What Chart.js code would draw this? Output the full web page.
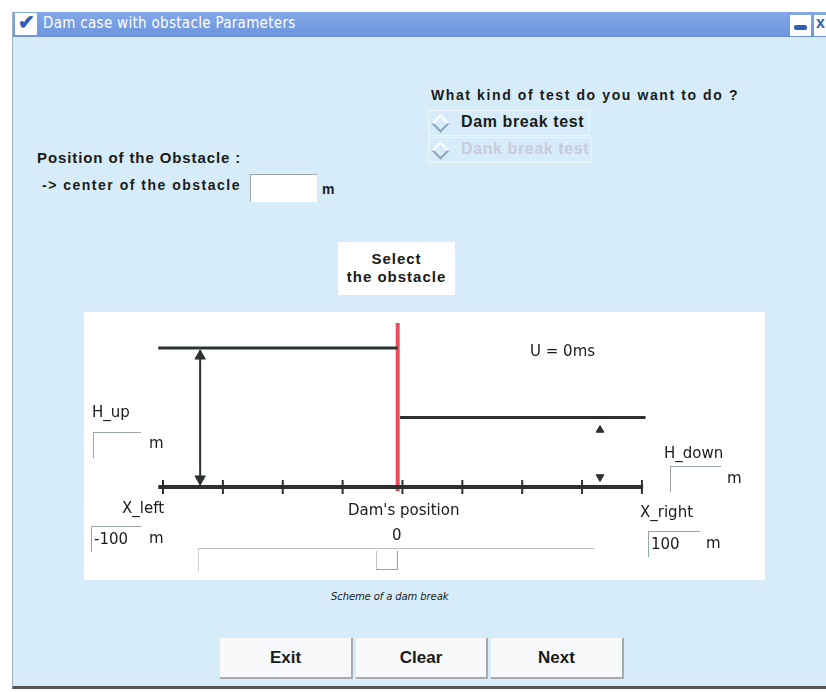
<!DOCTYPE html>
<html>
<head>
<meta charset="utf-8">
<script src="https://cdn.jsdelivr.net/npm/chart.js@4.4.1/dist/chart.umd.min.js"></script>
<style>
  body { margin: 0; width: 826px; height: 692px; background: #fff; position: relative; overflow: hidden;
         font-family: "Liberation Sans", Arial, sans-serif; color: #1a1a1a; }
  .abs { position: absolute; white-space: nowrap; }
  #win { left: 12px; top: 12px; width: 820px; height: 677px; background: #d6edf9;
         border-left: 1px solid #9fb6c8; border-bottom: 3px solid #555; box-sizing: border-box; }
  #titlebar { left: 13px; top: 12px; width: 813px; height: 25px;
              background: linear-gradient(#83a8ea, #6b94dc); }
  .title { font-family: "DejaVu Sans Condensed", "DejaVu Sans", sans-serif; font-stretch: condensed;
           font-size: 15px; letter-spacing: 0.3px; color: #fff; }
  .bold { font-weight: bold; font-size: 15px; letter-spacing: 0.9px; }
  .lbl { font-family: "DejaVu Sans", sans-serif; font-size: 15px; }
  .input { background: #fff; border-top: 1px solid #9aa4ac; border-left: 1px solid #9aa4ac; box-sizing: border-box; }
  .btn { background: #f7f9fa; border-right: 2px solid #a8aaac; border-bottom: 2px solid #a8aaac;
         box-sizing: border-box; text-align: center; font-weight: bold; font-size: 17px; line-height: 40px; }
  .diamond { width: 9px; height: 9px; transform: rotate(45deg); border-top: 2px solid #fff; border-left: 2px solid #fff;
             border-right: 2px solid #8fa2bc; border-bottom: 2px solid #8fa2bc; background: #d6edf9; }
</style>
</head>
<body>
<div id="win" class="abs"></div>
<div id="titlebar" class="abs"></div>
<div class="abs" style="left:15px;top:13px;width:22px;height:22px;background:#fff;"></div>
<div class="abs" style="left:18px;top:10px;font-size:20px;color:#2f5fb8;font-weight:bold;">&#10004;</div>
<div class="abs title" style="left:43px;top:14px;">Dam case with obstacle Parameters</div>
<div class="abs" style="left:790px;top:15px;width:21px;height:21px;background:#fff;"></div>
<div class="abs" style="left:794px;top:25px;width:13px;height:5px;background:#2f5fb8;border-radius:2px;"></div>
<div class="abs" style="left:814px;top:15px;width:12px;height:21px;background:#fff;"></div>
<div class="abs" style="left:816px;top:14px;font-size:16px;font-weight:bold;color:#2f5fb8;">x</div>

<div class="abs bold" style="left:431px;top:87px;font-size:14px;letter-spacing:1.6px;">What kind of test do you want to do ?</div>
<div class="abs" style="left:428px;top:110px;width:162px;height:26px;border:1px solid #eef6fb;box-sizing:border-box;"></div>
<div class="abs diamond" style="left:434px;top:117px;"></div>
<div class="abs bold" style="left:461px;top:113px;font-size:16px;letter-spacing:0.6px;">Dam break test</div>
<div class="abs" style="left:428px;top:137px;width:164px;height:26px;border:1px solid #eef6fb;box-sizing:border-box;"></div>
<div class="abs diamond" style="left:434px;top:144px;"></div>
<div class="abs bold" style="left:461px;top:140px;font-size:16px;letter-spacing:0.6px;color:#c9cadb;">Dank break test</div>

<div class="abs bold" style="left:37px;top:149px;">Position of the Obstacle :</div>
<div class="abs bold" style="left:42px;top:177px;font-size:14px;letter-spacing:1.5px;">-&gt; center of the obstacle</div>
<div class="abs input" style="left:250px;top:174px;width:67px;height:28px;"></div>
<div class="abs bold" style="left:322px;top:181px;font-size:14px;letter-spacing:0;">m</div>

<div class="abs bold" style="left:338px;top:242px;width:117px;height:53px;background:#fff;text-align:center;line-height:18px;padding-top:8px;box-sizing:border-box;letter-spacing:1px;">Select<br>the obstacle</div>

<div class="abs" style="left:84px;top:312px;width:681px;height:268px;background:#fff;"></div>
<canvas id="scheme" class="abs" style="left:84px;top:312px;" width="681" height="268"></canvas>

<div class="abs lbl" id="uLabel" style="left:530px;top:342px;">U = 0ms</div>
<div class="abs lbl" style="left:92px;top:403px;">H_up</div>
<div class="abs input" style="left:93px;top:432px;width:48px;height:26px;"></div>
<div class="abs lbl" style="left:149px;top:434px;">m</div>
<div class="abs lbl" style="left:664px;top:444px;">H_down</div>
<div class="abs input" style="left:670px;top:466px;width:51px;height:26px;"></div>
<div class="abs lbl" style="left:727px;top:469px;">m</div>

<div class="abs lbl" style="left:122px;top:499px;">X_left</div>
<div class="abs input lbl" style="left:91px;top:526px;width:50px;height:26px;padding:3px 0 0 2px;">-100</div>
<div class="abs lbl" style="left:149px;top:529px;">m</div>
<div class="abs lbl" style="left:348px;top:501px;">Dam's position</div>
<div class="abs lbl" style="left:392px;top:526px;">0</div>
<div class="abs" style="left:198px;top:548px;width:396px;height:24px;border-top:1px solid #b8bcc0;border-left:1px solid #d0d4d8;box-sizing:border-box;"></div>
<div class="abs" style="left:376px;top:551px;width:22px;height:19px;border-right:1px solid #9aa0a8;border-bottom:1px solid #9aa0a8;border-left:1px solid #c0c4c8;box-sizing:border-box;"></div>
<div class="abs lbl" style="left:640px;top:503px;">X_right</div>
<div class="abs input lbl" style="left:648px;top:531px;width:52px;height:26px;padding:3px 0 0 2px;">100</div>
<div class="abs lbl" style="left:706px;top:534px;">m</div>

<div class="abs lbl" style="left:331px;top:591px;font-size:10px;font-style:italic;letter-spacing:-0.1px;">Scheme of a dam break</div>

<div class="abs btn" style="left:220px;top:638px;width:133px;height:41px;">Exit</div>
<div class="abs btn" style="left:356px;top:638px;width:132px;height:41px;">Clear</div>
<div class="abs btn" style="left:491px;top:638px;width:133px;height:41px;">Next</div>

<script>
// scheme values (x in m, heights in m)
const xTicks = [-100, -75, -50, -25, 0, 25, 50, 75, 100];
const upstreamX = [-102, -2];
const upstreamH = [10, 10];
const downstreamX = [-1, 101.5];
const downstreamH = [5, 5];
const groundX = [-102, 100.5];
const damX = -2;
const damY = [-0.3, 11.8];
const arrowUpX = -84.5;
const arrowUpY = [0.15, 9.85];
const arrowDownX = 82.5;
const arrowDownY = [4.1, 0.72];

const dark = '#2b322e';

function pts(xs, ys) {
    return xs.map((x, i) => ({ x: x, y: ys[i] }));
}

new Chart(document.getElementById('scheme').getContext('2d'), {
    type: 'scatter',
    data: {
        datasets: [
            { data: pts(upstreamX, upstreamH), showLine: true, borderColor: dark, borderWidth: 3, pointRadius: 0 },
            { data: pts(downstreamX, downstreamH), showLine: true, borderColor: dark, borderWidth: 3, pointRadius: 0 },
            { data: pts(groundX, [0, 0]), showLine: true, borderColor: dark, borderWidth: 4, pointRadius: 0 },
            { data: xTicks.map(x => ({ x: x, y: 0 })), pointStyle: 'line', rotation: 90, pointRadius: 7,
              borderColor: dark, borderWidth: 2 },
            { data: pts([damX, damX], damY), showLine: true, borderColor: '#ee4b5b', borderWidth: 4, pointRadius: 0 },
            { data: pts([arrowUpX, arrowUpX], arrowUpY), showLine: true, borderColor: dark, borderWidth: 2, pointRadius: 0 },
            { data: [{ x: arrowUpX, y: 9.42 }, { x: arrowUpX, y: 0.58 }], pointStyle: 'triangle',
              rotation: [0, 180], pointRadius: 6, backgroundColor: dark, borderColor: dark, borderWidth: 1 },
            { data: [{ x: arrowDownX, y: arrowDownY[0] }, { x: arrowDownX, y: arrowDownY[1] }], pointStyle: 'triangle',
              rotation: [0, 180], pointRadius: 4.5, backgroundColor: dark, borderColor: dark, borderWidth: 1 }
        ]
    },
    options: {
        responsive: false,
        animation: false,
        devicePixelRatio: 1,
        layout: { padding: 0, autoPadding: false },
        plugins: { legend: { display: false }, tooltip: { enabled: false } },
        scales: {
            x: { type: 'linear', min: -133, max: 151.4, display: false },
            y: { type: 'linear', min: -6.69, max: 12.59, display: false }
        }
    }
});
</script>
</body>
</html>
